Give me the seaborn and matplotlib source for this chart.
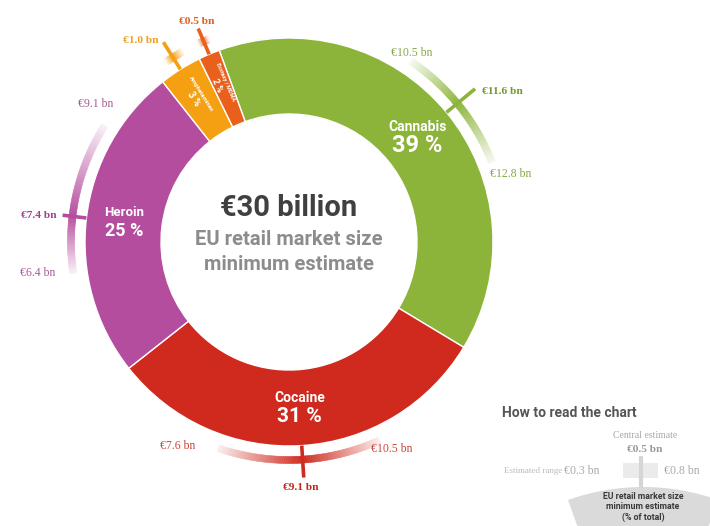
import numpy as np
import matplotlib
matplotlib.use("Agg")
import matplotlib.pyplot as plt
import seaborn as sns
from matplotlib.patches import Wedge, Rectangle
from matplotlib.colors import to_rgb

# Data: EU retail drug market, minimum estimates (EUR billion)
drugs = ["Cannabis", "Cocaine", "Heroin", "Amphetamines", "Ecstasy / MDMA"]
central_bn = [11.6, 9.1, 7.4, 1.0, 0.5]
low_bn = [10.5, 7.6, 6.4, 0.85, 0.4]
high_bn = [12.8, 10.5, 9.1, 1.2, 0.6]
share_labels = ["39 %", "31 %", "25 %", "3 %", "2 %"]
total_label = "€30 billion"
centre_sub = "EU retail market size\nminimum estimate"

# Colours
palette = sns.color_palette(["#8cb43a", "#cf2a1d", "#b54d9e", "#f4a012", "#e9601d"])
lab_light = ["#86a84a", "#c8473a", "#a85a97", "#f0a020", "#e9601d"]
lab_bold = ["#6f9a28", "#c0241a", "#a23e8e", "#eea21e", "#e55a18"]

# Layout (pixels of a 710x526 canvas)
W_PX, H_PX = 710, 526
cx, cy = 289, H_PX - 242
R_OUT, RING = 204, 76
ARC_R, ARC_W = 218, 7
DEG_PER_BN = 15
tick_r = [241, 236, 228, 236, 232]
val_sign = [-1, 1, -1, -1, -1]
pct_size = [17, 15, 13, 7, 6.5]
name_size = [10, 10, 9.5, 4.3, 4.0]
# label placement: (ha, dx, dy) in screen pixels from the anchor point
central_lab = [("left", 7, 3), ("center", -3, 10), ("right", -6, 0),
               ("right", -5, -2), ("center", -1, -7)]
low_lab = [("center", 1, -8), ("right", -23, -2), ("right", -18, 0), None, None]
high_lab = [("center", 19, 12), ("center", 12, 9), ("center", -9, -22), None, None]

sns.set_theme(style="white")
plt.rcParams["font.family"] = ["Roboto", "DejaVu Sans"]
SERIF = ["Liberation Serif", "DejaVu Serif"]

fig = plt.figure(figsize=(7.1, 5.26), dpi=100)
ax = fig.add_axes([0, 0, 1, 1])

wedges, _ = ax.pie(central_bn, colors=palette, startangle=110, counterclock=False,
                   radius=R_OUT, center=(cx, cy),
                   wedgeprops=dict(width=RING, edgecolor="white", linewidth=1.0))
ax.set_xlim(0, W_PX)
ax.set_ylim(0, H_PX)
ax.set_aspect("equal")
ax.axis("off")


def pol(r, a):
    t = np.deg2rad(a)
    return cx + r * np.cos(t), cy + r * np.sin(t)


def arc_band(a_from, a_to, color, n=40):
    # fades from full colour at a_from to near white at a_to
    edges = np.linspace(a_from, a_to, n + 1)
    col = np.array(to_rgb(color))
    for i in range(n):
        k = 1 - 0.92 * ((i + 0.5) / n)
        c = 1 - (1 - col) * k
        lo, hi = sorted((edges[i], edges[i + 1]))
        ax.add_patch(Wedge((cx, cy), ARC_R + ARC_W / 2, lo, hi, width=ARC_W,
                           facecolor=c, edgecolor=c, lw=0.4, zorder=3))


def put(xy, off, txt, color, size, ha="center", weight="normal"):
    ax.text(xy[0] + off[0], xy[1] - off[1], txt, color=color, fontsize=size,
            ha=ha, va="center", family=SERIF, fontweight=weight, zorder=6)


for i, w in enumerate(wedges):
    mid = (w.theta1 + w.theta2) / 2
    col = palette[i]
    a_lo = mid + val_sign[i] * (low_bn[i] - central_bn[i]) * DEG_PER_BN
    a_hi = mid + val_sign[i] * (high_bn[i] - central_bn[i]) * DEG_PER_BN
    arc_band(mid, a_lo, col)
    arc_band(mid, a_hi, col)

    # central estimate tick
    x0, y0 = pol(R_OUT, mid)
    x1, y1 = pol(tick_r[i], mid)
    ax.plot([x0, x1], [y0, y1], color=col, lw=2.6, solid_capstyle="butt", zorder=4)
    ha, dx, dy = central_lab[i]
    put((x1, y1), (dx, dy), f"€{central_bn[i]:.1f} bn", lab_bold[i], 8.2, ha, "bold")

    for lab, val, ang in ((low_lab[i], low_bn[i], a_lo), (high_lab[i], high_bn[i], a_hi)):
        if lab is None:
            continue
        ha, dx, dy = lab
        put(pol(ARC_R, ang), (dx, dy), f"€{val:.1f} bn", lab_light[i], 8.5, ha)

    # slice labels
    lx, ly = pol(166 if i < 3 else 172, mid)
    if i < 3:
        ax.text(lx, ly + 10, drugs[i], color="white", fontsize=name_size[i],
                fontweight="bold", ha="center", va="center", zorder=5)
        ax.text(lx, ly - 9, share_labels[i], color="white", fontsize=pct_size[i],
                fontweight="bold", ha="center", va="center", zorder=5)
    else:
        rot = mid - 180
        t = np.deg2rad(rot + 90)
        ux, uy = np.cos(t), np.sin(t)
        ax.text(lx + 4 * ux, ly + 4 * uy, drugs[i], color="white", fontsize=name_size[i],
                fontweight="bold", ha="center", va="center", rotation=rot, zorder=5)
        ax.text(lx - 5 * ux, ly - 5 * uy, share_labels[i], color="white",
                fontsize=pct_size[i], fontweight="bold", ha="center", va="center",
                rotation=rot, zorder=5)

# centre text
ax.text(cx, H_PX - 208, total_label, color="#404040", fontsize=21, fontweight="bold",
        ha="center", va="center")
ax.text(cx, H_PX - 252, centre_sub, color="#8c8c8c", fontsize=14.5, fontweight="bold",
        ha="center", va="center", linespacing=1.35)

# how to read the chart
ax.text(502, H_PX - 413, "How to read the chart", color="#555555", fontsize=10,
        fontweight="bold", ha="left", va="center")
ax.add_patch(Wedge((643, H_PX - 710), 223, 70.35, 109.65, width=60,
                   facecolor="#dadada", edgecolor="none"))
ax.add_patch(Rectangle((623, H_PX - 478), 35, 15, facecolor="#ebebeb", edgecolor="none"))
ax.plot([641, 641], [H_PX - 456, H_PX - 488], color="#d6d6d6", lw=3, solid_capstyle="butt")
put((645, H_PX - 435), (0, 0), "Central estimate", "#a8a8a8", 7)
put((645, H_PX - 449), (0, 0), "€0.5 bn", "#999999", 8.2, weight="bold")
put((562, H_PX - 471), (0, 0), "Estimated range", "#bbbbbb", 6.5, ha="right")
put((582, H_PX - 471), (0, 0), "€0.3 bn", "#aaaaaa", 8.5)
put((682, H_PX - 471), (0, 0), "€0.8 bn", "#aaaaaa", 8.5)
ax.text(643, H_PX - 507, "EU retail market size\nminimum estimate\n(% of total)",
        color="#3a3a3a", fontsize=6.3, fontweight="bold", ha="center", va="center",
        linespacing=1.25)

fig.savefig("out.png", dpi=100)
